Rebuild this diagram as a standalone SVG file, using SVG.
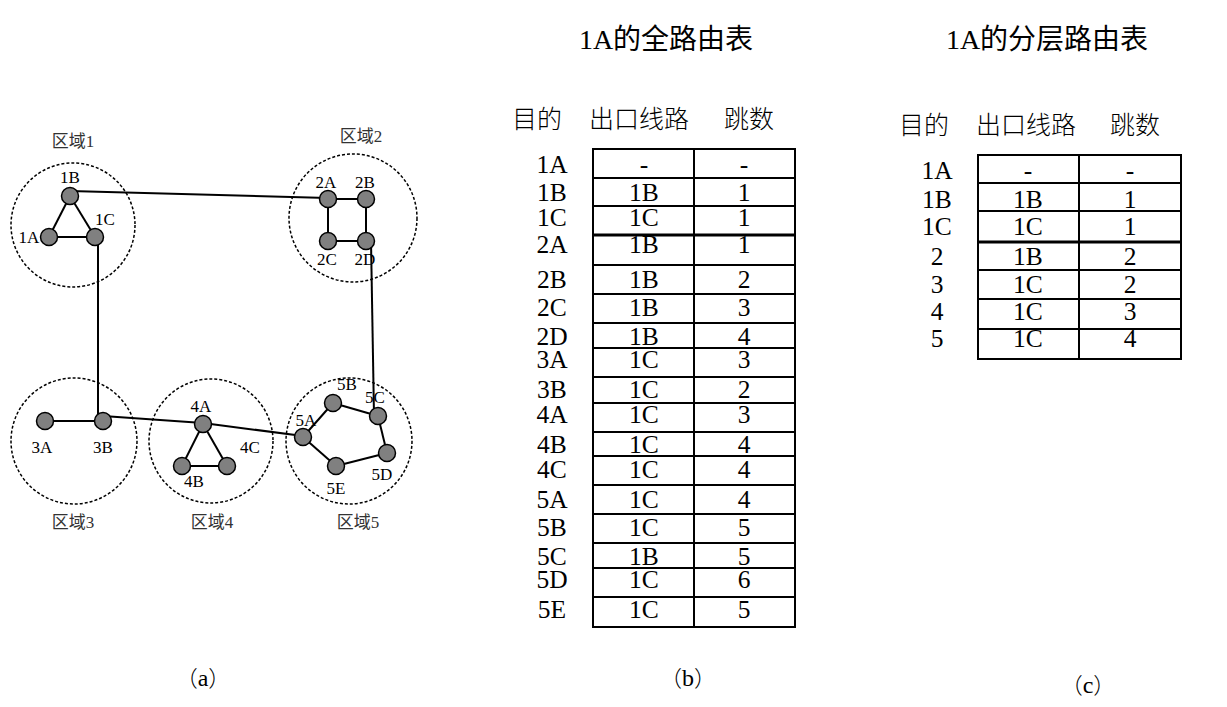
<svg xmlns="http://www.w3.org/2000/svg" width="1227" height="707" viewBox="0 0 1227 707">
<style>
.bg{fill:#fff}
.region{fill:none;stroke:#000;stroke-width:1.5;stroke-dasharray:3 2}
.edge{stroke:#000;stroke-width:2;fill:none}
.node{fill:#808080;stroke:#000;stroke-width:1.5}
.lbl{font-family:"Liberation Serif","Noto Sans CJK SC",serif;font-size:17px;fill:#000;text-anchor:middle}
.rlbl{font-family:"Liberation Serif","Noto Sans CJK SC",serif;font-size:17px;fill:#333;text-anchor:middle}
.grid{stroke:#000;stroke-width:2;fill:none}
.thick{stroke:#000;stroke-width:3}
.cell{font-family:"Liberation Serif","Noto Sans CJK SC",serif;font-size:25.5px;fill:#000;text-anchor:middle}
.hdr{font-family:"Noto Sans CJK SC",sans-serif;font-size:25px;font-weight:300;fill:#000}
.title{font-family:"Liberation Serif","Noto Sans CJK SC",serif;font-size:28px;fill:#000;text-anchor:middle}
.cap{font-family:"Noto Sans CJK SC",sans-serif;font-size:22px;font-weight:300;fill:#000;text-anchor:middle}
.capl{font-family:"Liberation Serif",serif;font-size:24px}
</style>
<rect class="bg" x="0" y="0" width="1227" height="707"/>

<g id="regions">
  <circle class="region" cx="73" cy="225" r="62"/>
  <circle class="region" cx="353" cy="218" r="64"/>
  <circle class="region" cx="74" cy="441" r="63"/>
  <circle class="region" cx="211" cy="441" r="62"/>
  <circle class="region" cx="349" cy="441" r="63"/>
  <text class="rlbl" x="73" y="147">区域1</text>
  <text class="rlbl" x="361" y="142">区域2</text>
  <text class="rlbl" x="73" y="528">区域3</text>
  <text class="rlbl" x="212" y="528">区域4</text>
  <text class="rlbl" x="358" y="528">区域5</text>
</g>

<g id="connectors">
  <line class="edge" x1="49" y1="237" x2="70" y2="196"/>
  <line class="edge" x1="70" y1="196" x2="95" y2="237"/>
  <line class="edge" x1="49" y1="237" x2="95" y2="237"/>
  <line class="edge" x1="70" y1="191" x2="328" y2="198"/>
  <line class="edge" x1="98" y1="237" x2="98" y2="421"/>
  <line class="edge" x1="328" y1="199" x2="366" y2="199"/>
  <line class="edge" x1="328" y1="199" x2="328" y2="241"/>
  <line class="edge" x1="366" y1="199" x2="366" y2="241"/>
  <line class="edge" x1="328" y1="241" x2="366" y2="241"/>
  <line class="edge" x1="371" y1="241" x2="374" y2="415"/>
  <line class="edge" x1="45" y1="421" x2="103" y2="421"/>
  <line class="edge" x1="103" y1="416" x2="203" y2="423"/>
  <line class="edge" x1="203" y1="423" x2="303" y2="436"/>
  <line class="edge" x1="203" y1="424" x2="182" y2="466"/>
  <line class="edge" x1="203" y1="424" x2="227" y2="466"/>
  <line class="edge" x1="182" y1="466" x2="227" y2="466"/>
  <line class="edge" x1="303" y1="437" x2="333" y2="403"/>
  <line class="edge" x1="333" y1="403" x2="378" y2="416"/>
  <line class="edge" x1="378" y1="416" x2="387" y2="453"/>
  <line class="edge" x1="387" y1="453" x2="336" y2="466"/>
  <line class="edge" x1="336" y1="466" x2="303" y2="437"/>
</g>

<g id="n1A"><circle class="node" cx="49" cy="237" r="8.5"/><text class="lbl" x="29" y="243">1A</text></g>
<g id="n1B"><circle class="node" cx="70" cy="196" r="8.5"/><text class="lbl" x="70" y="183">1B</text></g>
<g id="n1C"><circle class="node" cx="95" cy="237" r="8.5"/><text class="lbl" x="105" y="225">1C</text></g>
<g id="n2A"><circle class="node" cx="328" cy="199" r="8.5"/><text class="lbl" x="326" y="188">2A</text></g>
<g id="n2B"><circle class="node" cx="366" cy="199" r="8.5"/><text class="lbl" x="365" y="188">2B</text></g>
<g id="n2C"><circle class="node" cx="328" cy="241" r="8.5"/><text class="lbl" x="327" y="265">2C</text></g>
<g id="n2D"><circle class="node" cx="366" cy="241" r="8.5"/><text class="lbl" x="365" y="265">2D</text></g>
<g id="n3A"><circle class="node" cx="45" cy="421" r="8.5"/><text class="lbl" x="42" y="453">3A</text></g>
<g id="n3B"><circle class="node" cx="103" cy="421" r="8.5"/><text class="lbl" x="103" y="453">3B</text></g>
<g id="n4A"><circle class="node" cx="203" cy="424" r="8.5"/><text class="lbl" x="201" y="412">4A</text></g>
<g id="n4B"><circle class="node" cx="182" cy="466" r="8.5"/><text class="lbl" x="194" y="487">4B</text></g>
<g id="n4C"><circle class="node" cx="227" cy="466" r="8.5"/><text class="lbl" x="250" y="453">4C</text></g>
<g id="n5A"><circle class="node" cx="303" cy="437" r="8.5"/><text class="lbl" x="306" y="426">5A</text></g>
<g id="n5B"><circle class="node" cx="333" cy="403" r="8.5"/><text class="lbl" x="347" y="390">5B</text></g>
<g id="n5C"><circle class="node" cx="378" cy="416" r="8.5"/><text class="lbl" x="375" y="403">5C</text></g>
<g id="n5D"><circle class="node" cx="387" cy="453" r="8.5"/><text class="lbl" x="382" y="480">5D</text></g>
<g id="n5E"><circle class="node" cx="336" cy="466" r="8.5"/><text class="lbl" x="336" y="494">5E</text></g>

<g id="tableB">
  <text class="title" x="666" y="49">1A的全路由表</text>
  <text class="hdr" x="512" y="128">目的</text>
  <text class="hdr" x="589" y="128">出口线路</text>
  <text class="hdr" x="724" y="128">跳数</text>
  <rect class="grid" x="593" y="149" width="202" height="478"/>
  <line class="grid" x1="694" y1="149" x2="694" y2="627"/>
  <g class="grid">
    <line x1="593" y1="178" x2="795" y2="178"/>
    <line x1="593" y1="206" x2="795" y2="206"/>
    <line x1="593" y1="265" x2="795" y2="265"/>
    <line x1="593" y1="294" x2="795" y2="294"/>
    <line x1="593" y1="323" x2="795" y2="323"/>
    <line x1="593" y1="348" x2="795" y2="348"/>
    <line x1="593" y1="377" x2="795" y2="377"/>
    <line x1="593" y1="403" x2="795" y2="403"/>
    <line x1="593" y1="432" x2="795" y2="432"/>
    <line x1="593" y1="456" x2="795" y2="456"/>
    <line x1="593" y1="485" x2="795" y2="485"/>
    <line x1="593" y1="514" x2="795" y2="514"/>
    <line x1="593" y1="543" x2="795" y2="543"/>
    <line x1="593" y1="568" x2="795" y2="568"/>
    <line x1="593" y1="597" x2="795" y2="597"/>
  </g>
  <line class="thick" x1="593" y1="235" x2="795" y2="235"/>
  <g>
    <text class="cell" x="552" y="173">1A</text><text class="cell" x="644" y="173">-</text><text class="cell" x="744" y="173">-</text>
    <text class="cell" x="552" y="201">1B</text><text class="cell" x="644" y="201">1B</text><text class="cell" x="744" y="201">1</text>
    <text class="cell" x="552" y="226">1C</text><text class="cell" x="644" y="226">1C</text><text class="cell" x="744" y="226">1</text>
    <text class="cell" x="552" y="253">2A</text><text class="cell" x="644" y="253">1B</text><text class="cell" x="744" y="253">1</text>
    <text class="cell" x="552" y="288">2B</text><text class="cell" x="644" y="288">1B</text><text class="cell" x="744" y="288">2</text>
    <text class="cell" x="552" y="316">2C</text><text class="cell" x="644" y="316">1B</text><text class="cell" x="744" y="316">3</text>
    <text class="cell" x="552" y="345">2D</text><text class="cell" x="644" y="345">1B</text><text class="cell" x="744" y="345">4</text>
    <text class="cell" x="552" y="368">3A</text><text class="cell" x="644" y="368">1C</text><text class="cell" x="744" y="368">3</text>
    <text class="cell" x="552" y="398">3B</text><text class="cell" x="644" y="398">1C</text><text class="cell" x="744" y="398">2</text>
    <text class="cell" x="552" y="423">4A</text><text class="cell" x="644" y="423">1C</text><text class="cell" x="744" y="423">3</text>
    <text class="cell" x="552" y="453">4B</text><text class="cell" x="644" y="453">1C</text><text class="cell" x="744" y="453">4</text>
    <text class="cell" x="552" y="478">4C</text><text class="cell" x="644" y="478">1C</text><text class="cell" x="744" y="478">4</text>
    <text class="cell" x="552" y="508">5A</text><text class="cell" x="644" y="508">1C</text><text class="cell" x="744" y="508">4</text>
    <text class="cell" x="552" y="536">5B</text><text class="cell" x="644" y="536">1C</text><text class="cell" x="744" y="536">5</text>
    <text class="cell" x="552" y="565">5C</text><text class="cell" x="644" y="565">1B</text><text class="cell" x="744" y="565">5</text>
    <text class="cell" x="552" y="588">5D</text><text class="cell" x="644" y="588">1C</text><text class="cell" x="744" y="588">6</text>
    <text class="cell" x="552" y="618">5E</text><text class="cell" x="644" y="618">1C</text><text class="cell" x="744" y="618">5</text>
  </g>
</g>

<g id="tableC">
  <text class="title" x="1047" y="49">1A的分层路由表</text>
  <text class="hdr" x="899" y="134">目的</text>
  <text class="hdr" x="976" y="134">出口线路</text>
  <text class="hdr" x="1110" y="134">跳数</text>
  <rect class="grid" x="978" y="155" width="203" height="204"/>
  <line class="grid" x1="1079" y1="155" x2="1079" y2="359"/>
  <g class="grid">
    <line x1="978" y1="183" x2="1181" y2="183"/>
    <line x1="978" y1="211" x2="1181" y2="211"/>
    <line x1="978" y1="270" x2="1181" y2="270"/>
    <line x1="978" y1="299" x2="1181" y2="299"/>
    <line x1="978" y1="329" x2="1181" y2="329"/>
  </g>
  <line class="thick" x1="978" y1="242" x2="1181" y2="242"/>
  <g>
    <text class="cell" x="937" y="179">1A</text><text class="cell" x="1028" y="179">-</text><text class="cell" x="1130" y="179">-</text>
    <text class="cell" x="937" y="208">1B</text><text class="cell" x="1028" y="208">1B</text><text class="cell" x="1130" y="208">1</text>
    <text class="cell" x="937" y="235">1C</text><text class="cell" x="1028" y="235">1C</text><text class="cell" x="1130" y="235">1</text>
    <text class="cell" x="937" y="265">2</text><text class="cell" x="1028" y="265">1B</text><text class="cell" x="1130" y="265">2</text>
    <text class="cell" x="937" y="293">3</text><text class="cell" x="1028" y="293">1C</text><text class="cell" x="1130" y="293">2</text>
    <text class="cell" x="937" y="320">4</text><text class="cell" x="1028" y="320">1C</text><text class="cell" x="1130" y="320">3</text>
    <text class="cell" x="937" y="347">5</text><text class="cell" x="1028" y="347">1C</text><text class="cell" x="1130" y="347">4</text>
  </g>
</g>

<g id="captions">
  <text class="cap" x="203" y="686">（<tspan class="capl">a</tspan>）</text>
  <text class="cap" x="688" y="686">（<tspan class="capl">b</tspan>）</text>
  <text class="cap" x="1088" y="693">（<tspan class="capl">c</tspan>）</text>
</g>
</svg>
